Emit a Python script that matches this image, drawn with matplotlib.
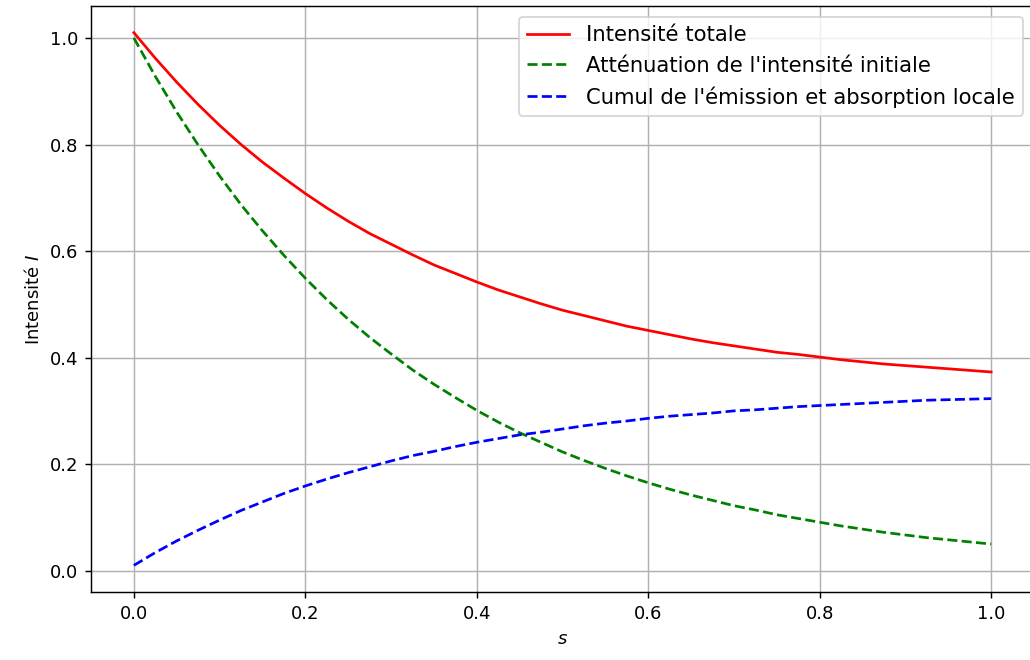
import numpy as np
import matplotlib.pyplot as plt

s = [0.0, 0.025, 0.05, 0.075, 0.1, 0.125, 0.15, 0.175, 0.2, 0.225, 0.25,
     0.275, 0.3, 0.325, 0.35, 0.375, 0.4, 0.425, 0.45, 0.475, 0.5,
     0.525, 0.55, 0.575, 0.6, 0.625, 0.65, 0.675, 0.7, 0.725, 0.75,
     0.775, 0.8, 0.825, 0.85, 0.875, 0.9, 0.925, 0.95, 0.975, 1.0]
intensite_totale = [1.010, 0.962, 0.917, 0.875, 0.836, 0.800, 0.767, 0.737, 0.708, 0.681, 0.656,
                    0.633, 0.613, 0.593, 0.574, 0.558, 0.542, 0.527, 0.514, 0.501, 0.489,
                    0.479, 0.469, 0.459, 0.451, 0.443, 0.435, 0.428, 0.422, 0.416, 0.410,
                    0.406, 0.401, 0.396, 0.392, 0.388, 0.385, 0.382, 0.379, 0.376, 0.373]
attenuation = [1.000, 0.928, 0.861, 0.799, 0.741, 0.687, 0.638, 0.592, 0.549, 0.509, 0.472,
               0.438, 0.407, 0.377, 0.350, 0.325, 0.301, 0.279, 0.259, 0.241, 0.223,
               0.207, 0.192, 0.178, 0.165, 0.153, 0.142, 0.132, 0.122, 0.114, 0.105,
               0.098, 0.091, 0.084, 0.078, 0.072, 0.067, 0.062, 0.058, 0.054, 0.050]
cumul = [0.010, 0.034, 0.056, 0.076, 0.095, 0.113, 0.129, 0.145, 0.159, 0.172, 0.184,
         0.195, 0.206, 0.216, 0.224, 0.233, 0.241, 0.248, 0.255, 0.260, 0.266,
         0.272, 0.277, 0.281, 0.286, 0.290, 0.293, 0.296, 0.300, 0.302, 0.305,
         0.308, 0.310, 0.312, 0.314, 0.316, 0.318, 0.320, 0.321, 0.322, 0.323]

dpi = 130
fig = plt.figure(figsize=(1030 / dpi, 660 / dpi), dpi=dpi)
ax = fig.add_axes([91 / 1030, 1 - 592 / 660, (1034 - 91) / 1030, (592 - 6) / 660])

ax.plot(s, intensite_totale, color='red', linestyle='-', label='Intensité totale')
ax.plot(s, attenuation, color='green', linestyle='--', label="Atténuation de l'intensité initiale")
ax.plot(s, cumul, color='blue', linestyle='--', label="Cumul de l'émission et absorption locale")

ax.set_xlabel('$s$')
ax.set_ylabel('Intensité $I$')
ax.grid(True)
ax.legend(loc='upper right', fontsize=11.7)

fig.savefig('out.png', dpi=dpi)
